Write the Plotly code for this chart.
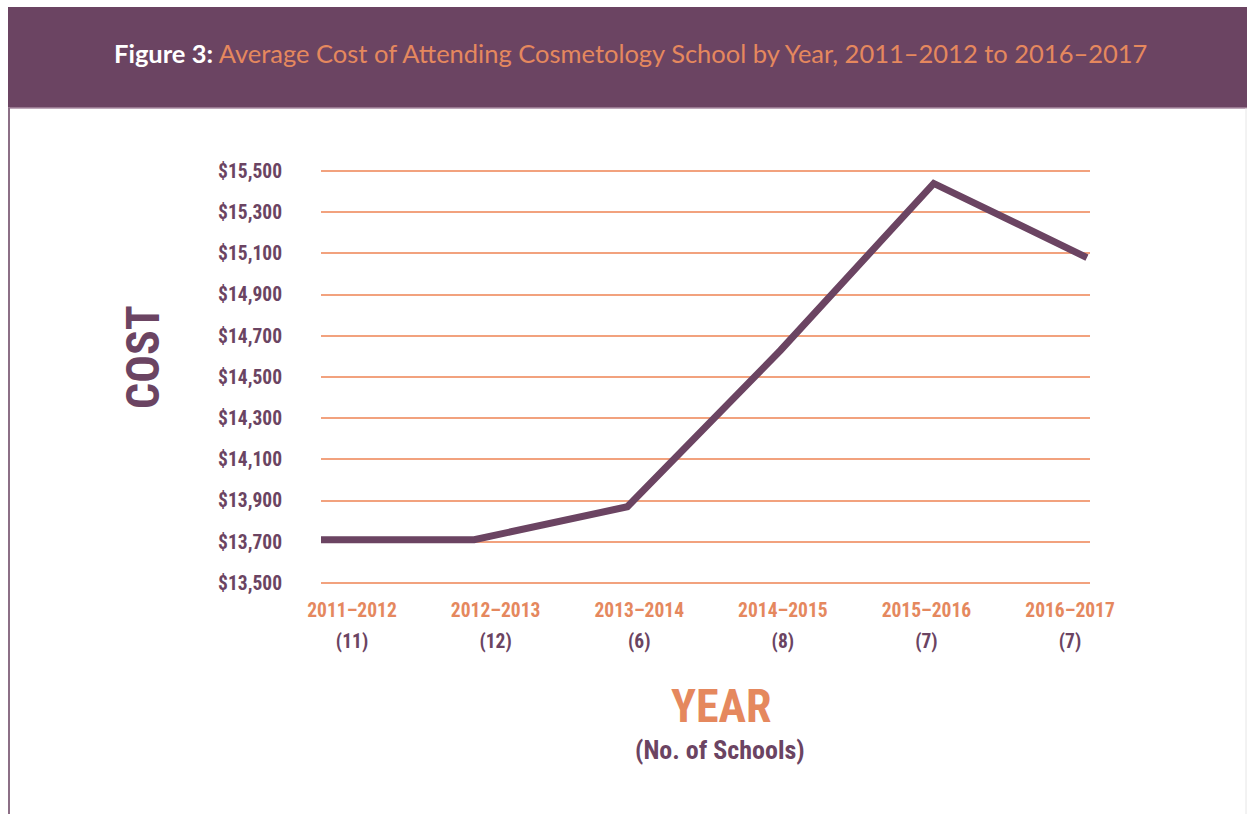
import plotly.graph_objects as go

# ---- data ----
years = ["2011–2012", "2012–2013", "2013–2014", "2014–2015", "2015–2016", "2016–2017"]
schools = ["(11)", "(12)", "(6)", "(8)", "(7)", "(7)"]
avg_cost = [13710, 13710, 13870, 14630, 15440, 15080]
y_ticks = [13500, 13700, 13900, 14100, 14300, 14500, 14700, 14900, 15100, 15300, 15500]
y_tick_text = ["$" + format(v, ",") for v in y_ticks]

PURPLE = "#6B4462"
ORANGE = "#E5885E"
GRID = "#F2A27E"
NARROW = "Roboto Condensed, Open Sans Condensed, Liberation Sans Narrow, DejaVu Sans Condensed, sans-serif"

W, H = 1247, 814
L, R = 321, 1090
T, B = 169, 585

def px(x):
    return (x - L) / (R - L)

def py(y):
    return (B - y) / (B - T)

idx = list(range(len(years)))

def nfont(size, color):
    return dict(family=NARROW, size=size, color=color, weight="bold")

fig = go.Figure()
fig.add_trace(go.Scatter(
    x=idx, y=avg_cost, mode="lines",
    line=dict(color=PURPLE, width=7),
    xaxis="x", yaxis="y", showlegend=False, hoverinfo="skip",
))
fig.add_trace(go.Scatter(x=idx, y=avg_cost, mode="lines", line=dict(width=0),
                         xaxis="x2", yaxis="y", showlegend=False, hoverinfo="skip", opacity=0))
fig.add_trace(go.Scatter(x=idx, y=avg_cost, mode="lines", line=dict(width=0),
                         xaxis="x3", yaxis="y", showlegend=False, hoverinfo="skip", opacity=0))

lab_range = [-0.216, 5.139]

fig.update_layout(
    width=W, height=H,
    margin=dict(l=L, r=W - R, t=T, b=H - B, pad=0),
    paper_bgcolor="white", plot_bgcolor="white",
    xaxis=dict(range=[0, 5.02], showgrid=False, showticklabels=False, ticks="",
               zeroline=False, showline=False),
    xaxis2=dict(overlaying="x", anchor="y", side="bottom", range=lab_range,
                tickmode="array", tickvals=idx, ticktext=years,
                showgrid=False, zeroline=False, showline=False, ticks="",
                ticklabelstandoff=11, tickfont=nfont(19.5, ORANGE)),
    xaxis3=dict(overlaying="x", anchor="y", side="bottom", range=lab_range,
                tickmode="array", tickvals=idx, ticktext=schools,
                showgrid=False, zeroline=False, showline=False, ticks="",
                ticklabelstandoff=42, tickfont=nfont(19.5, PURPLE)),
    yaxis=dict(range=[13490, 15510], tickmode="array", tickvals=y_ticks,
               ticktext=y_tick_text,
               showgrid=True, gridcolor=GRID, gridwidth=2,
               zeroline=False, showline=False, ticks="",
               ticklabelstandoff=38, tickfont=nfont(19.5, PURPLE)),
    shapes=[
        dict(type="rect", xref="paper", yref="paper", layer="below",
             x0=px(8), x1=px(1247), y0=py(108), y1=py(7),
             fillcolor=PURPLE, line=dict(width=0)),
        dict(type="line", xref="paper", yref="paper",
             x0=px(8), x1=px(1247), y0=py(108), y1=py(108),
             line=dict(color="#A88BA2", width=1.5)),
        dict(type="line", xref="paper", yref="paper",
             x0=px(9), x1=px(9), y0=py(108), y1=py(814),
             line=dict(color="#8C6F86", width=2)),
        dict(type="line", xref="paper", yref="paper",
             x0=px(1246), x1=px(1246), y0=py(108), y1=py(814),
             line=dict(color="#E6E6E6", width=1)),
    ],
    annotations=[
        dict(xref="paper", yref="paper", x=px(630), y=py(53),
             xanchor="center", yanchor="middle", showarrow=False,
             text="<span style='color:white;font-weight:700'>Figure 3:</span> "
                  "Average Cost of Attending Cosmetology School by Year, 2011–2012 to 2016–2017",
             font=dict(family="Lato, Open Sans, sans-serif", size=25.5, color=ORANGE)),
        dict(xref="paper", yref="paper", x=px(143), y=py(357),
             xanchor="center", yanchor="middle", showarrow=False, textangle=-90,
             text="<b>COST</b>", font=nfont(46, PURPLE)),
        dict(xref="paper", yref="paper", x=px(721), y=py(706),
             xanchor="center", yanchor="middle", showarrow=False,
             text="<b>YEAR</b>", font=nfont(46, ORANGE)),
        dict(xref="paper", yref="paper", x=px(720), y=py(750),
             xanchor="center", yanchor="middle", showarrow=False,
             text="<b>(No. of Schools)</b>", font=nfont(26, PURPLE)),
    ],
)

fig.write_html("out.html")
